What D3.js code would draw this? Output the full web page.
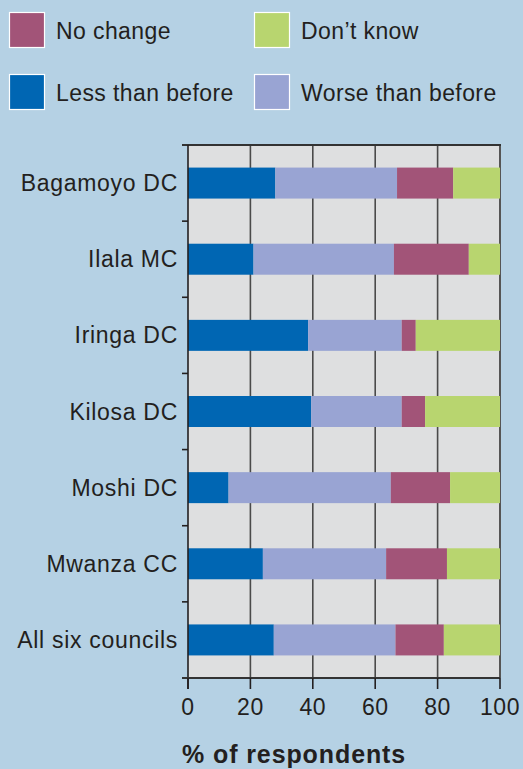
<!DOCTYPE html>
<html>
<head>
<meta charset="utf-8">
<script src="https://cdn.jsdelivr.net/npm/d3@7"></script>
<style>
  html, body { margin: 0; padding: 0; background: #b5d1e4; }
  svg { display: block; }
  text { font-family: "Liberation Sans", Arial, Helvetica, sans-serif; fill: #231f20; }
</style>
</head>
<body>
<div id="chart"></div>
<script>
const categories = ["Bagamoyo DC", "Ilala MC", "Iringa DC", "Kilosa DC", "Moshi DC", "Mwanza CC", "All six councils"];
const seriesNames = ["Less than before", "Worse than before", "No change", "Don\u2019t know"];
const lessThanBefore = [28, 21, 38.5, 39.5, 13, 24, 27.5];
const worseThanBefore = [39, 45, 30, 29, 52, 39.5, 39];
const noChange = [18, 24, 4.5, 7.5, 19, 19.5, 15.5];
const dontKnow = [15, 10, 27, 24, 16, 17, 18];
const xTicks = [0, 20, 40, 60, 80, 100];
const colors = ["#0066b3", "#99a4d3", "#a25478", "#b8d56f"];
const legendOrder = [
  {name: "No change", color: "#a25478"},
  {name: "Don\u2019t know", color: "#b8d56f"},
  {name: "Less than before", color: "#0066b3"},
  {name: "Worse than before", color: "#99a4d3"}
];

(function () {
const W = 523, H = 769;
const svg = d3.select("#chart").append("svg").attr("width", W).attr("height", H);
svg.append("rect").attr("width", W).attr("height", H).attr("fill", "#b5d1e4");

const pL = 188, pR = 500, pT = 145, pB = 678;
const x = d3.scaleLinear().domain([0, 100]).range([pL, pR]);
const pad = 0.593;
const y = d3.scaleBand().domain(categories).range([pT, pB]).paddingInner(pad).paddingOuter(pad / 2);

// plot background
svg.append("rect").attr("x", pL).attr("y", pT).attr("width", pR - pL).attr("height", pB - pT).attr("fill", "#dedfe0");

// gridlines
svg.append("g").selectAll("line").data(xTicks.slice(1, -1)).join("line")
  .attr("x1", d => x(d)).attr("x2", d => x(d)).attr("y1", pT).attr("y2", pB)
  .attr("stroke", "#4a4a4a").attr("stroke-width", 1.6);

// right and top borders
svg.append("line").attr("x1", x(100)).attr("x2", x(100)).attr("y1", pT).attr("y2", pB)
  .attr("stroke", "#555").attr("stroke-width", 2);
svg.append("line").attr("x1", pL - 6).attr("x2", pR + 1).attr("y1", pT).attr("y2", pT)
  .attr("stroke", "#333").attr("stroke-width", 2);

// stacked data
const rows = categories.map((c, i) => ({cat: c, vals: [lessThanBefore[i], worseThanBefore[i], noChange[i], dontKnow[i]]}));
const stackData = rows.map(r => {
  let acc = 0;
  return r.vals.map((v, k) => { const s = acc; acc += v; return {cat: r.cat, k, x0: s, x1: Math.min(acc, 100)}; });
}).flat();

svg.append("g").selectAll("rect").data(stackData).join("rect")
  .attr("x", d => x(d.x0)).attr("width", d => x(d.x1) - x(d.x0))
  .attr("y", d => y(d.cat)).attr("height", y.bandwidth())
  .attr("fill", d => colors[d.k]);

// y axis (left) with ticks at band boundaries
const step = y.step();
const boundaries = categories.slice(0, -1).map(c => y(c) + y.bandwidth() + (step - y.bandwidth()) / 2);
svg.append("line").attr("x1", pL).attr("x2", pL).attr("y1", pT).attr("y2", pB + 11)
  .attr("stroke", "#231f20").attr("stroke-width", 1.6);
svg.append("g").selectAll("line").data(boundaries).join("line")
  .attr("x1", pL - 6).attr("x2", pL).attr("y1", d => d).attr("y2", d => d)
  .attr("stroke", "#231f20").attr("stroke-width", 1.6);

// category labels
svg.append("g").selectAll("text").data(categories).join("text")
  .attr("x", 178).attr("y", d => y(d) + y.bandwidth() / 2)
  .attr("dy", "0.35em").attr("text-anchor", "end")
  .style("font-size", "23px").style("letter-spacing", "0.7px")
  .text(d => d);

// x axis
const xAxisG = svg.append("g").attr("transform", `translate(0,${pB})`);
xAxisG.append("line").attr("x1", pL - 6).attr("x2", pR).attr("y1", 0).attr("y2", 0)
  .attr("stroke", "#333").attr("stroke-width", 2);
xAxisG.selectAll("line.tick").data(xTicks).join("line").attr("class", "tick")
  .attr("x1", d => x(d)).attr("x2", d => x(d)).attr("y1", 0).attr("y2", 11)
  .attr("stroke", "#231f20").attr("stroke-width", 1.6);
xAxisG.selectAll("text").data(xTicks).join("text")
  .attr("x", d => x(d)).attr("y", 29).attr("dy", "0.35em").attr("text-anchor", "middle")
  .style("font-size", "23px").style("letter-spacing", "0.5px")
  .text(d => d);

svg.append("text").attr("x", 182).attr("y", 763)
  .style("font-size", "25px").style("font-weight", "bold").style("letter-spacing", "0.9px")
  .text("% of respondents");

// legend
const legPos = [[9, 12], [254, 12], [9, 74], [254, 74]];
const leg = svg.append("g").selectAll("g").data(legendOrder).join("g")
  .attr("transform", (d, i) => `translate(${legPos[i][0]},${legPos[i][1]})`);
leg.append("rect").attr("x", 0.5).attr("y", 0.5).attr("width", 35).attr("height", 35)
  .attr("fill", d => d.color).attr("stroke", "#ffffff").attr("stroke-width", 1.2);
leg.append("text").attr("x", 47).attr("y", 19).attr("dy", "0.35em")
  .style("font-size", "23px").style("letter-spacing", "0.4px")
  .text(d => d.name);
})();
</script>
</body>
</html>
